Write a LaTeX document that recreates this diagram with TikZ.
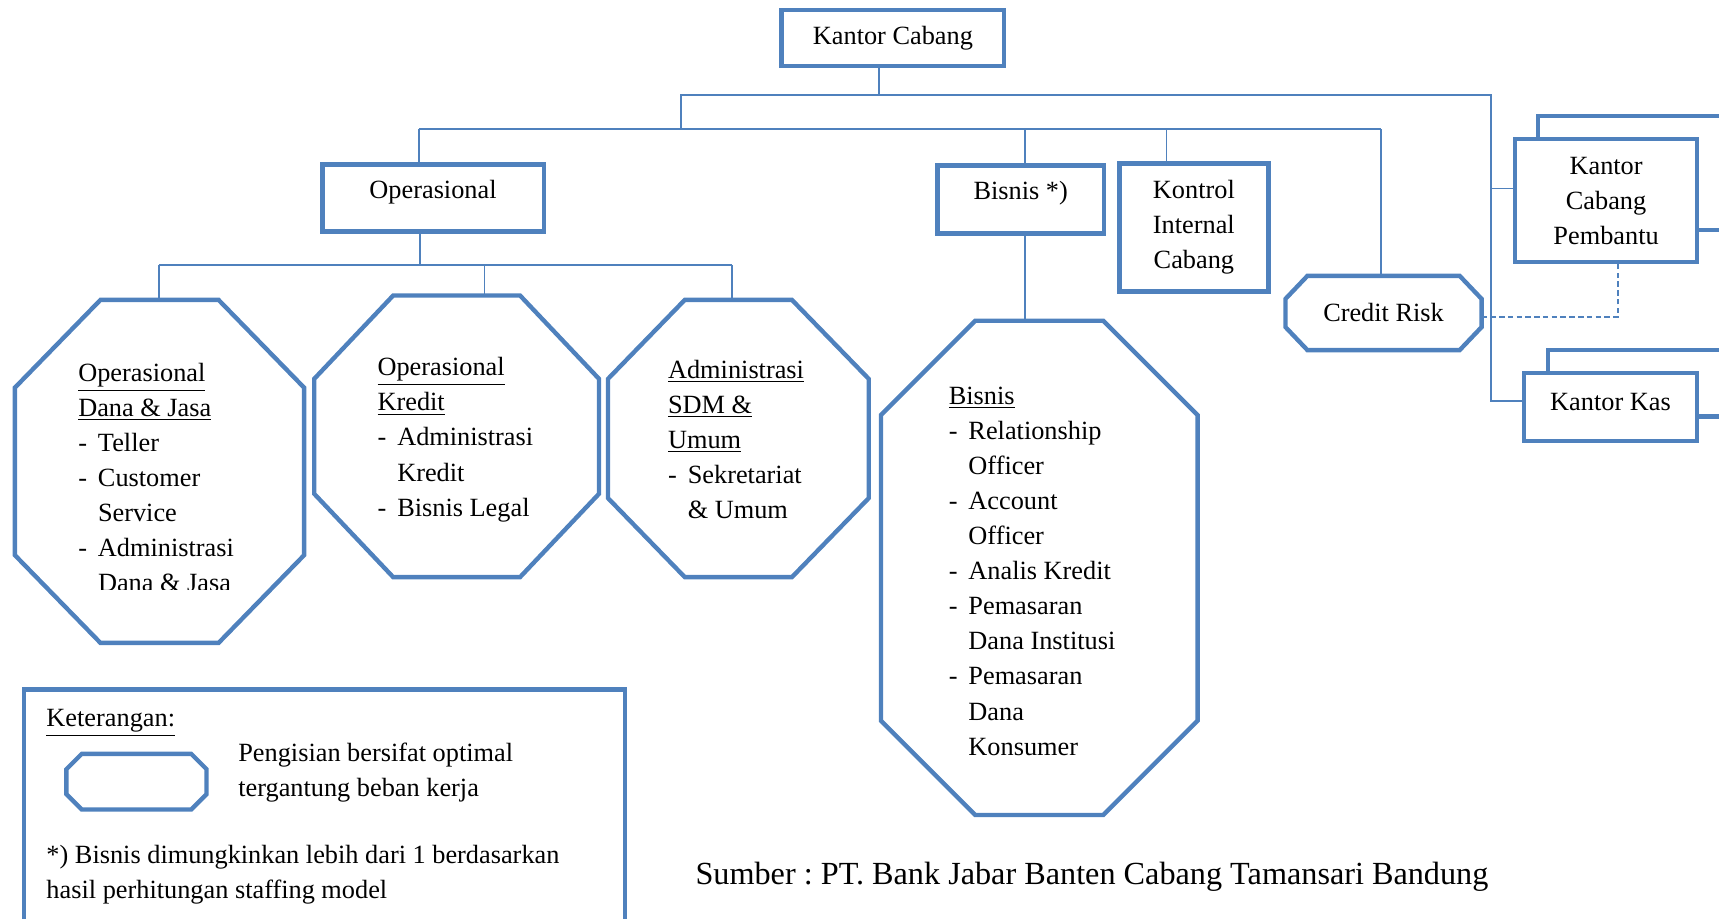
\documentclass[tikz,border=0pt]{standalone}
\usepackage{fontspec}
\setmainfont{Liberation Serif}
\frenchspacing
\definecolor{orgblue}{RGB}{79,129,189}
\tikzset{
  unitbox/.style={draw=orgblue, line width=2pt, fill=white, inner sep=0pt, align=center, font=\fontsize{12}{16}\selectfont},
  octarea/.style={inner sep=0pt, align=center, font=\fontsize{12}{16}\selectfont},
  octline/.style={draw=orgblue, line width=2pt},
  conn/.style={draw=orgblue, line width=0.8pt},
  desc/.style={anchor=north west, inner sep=0pt, align=left, font=\fontsize{12}{16}\selectfont},
}
% octagon round a named node: node, x cut, y cut
\newcommand{\octa}[3]{%
  \draw[octline] ([xshift=#2]#1.north west) -- ([xshift=-#2]#1.north east)
    -- ([yshift=-#3]#1.north east) -- ([yshift=#3]#1.south east)
    -- ([xshift=-#2]#1.south east) -- ([xshift=#2]#1.south west)
    -- ([yshift=#3]#1.south west) -- ([yshift=-#3]#1.north west) -- cycle;}
\newcommand{\itm}[1]{\makebox[9pt][l]{-}#1}
\newcommand{\cnt}[1]{\hspace*{9pt}#1}
\begin{document}
\begin{tikzpicture}[x=0.5pt,y=-0.5pt]
    \useasboundingbox (0,0) rectangle (1568,838);

    % Junction points of the connectors
    \coordinate (j1) at (802,87);
    \coordinate (b1l) at (621,87);
    \coordinate (b1r) at (1360,87);
    \coordinate (b2l) at (382,118);
    \coordinate (b2m) at (935,118);
    \coordinate (b2k) at (1064,118);
    \coordinate (b2r) at (1260,118);
    \coordinate (r1) at (1360,172);
    \coordinate (r2) at (1360,366);
    \coordinate (c0) at (383,242);
    \coordinate (c1) at (145,242);
    \coordinate (c2) at (442,242);
    \coordinate (c3) at (668,242);
    \coordinate (dq) at (1476,289);

    % Top office
    \node[unitbox, minimum width=101.5pt, minimum height=25.5pt] (kc) at (814.5,34.5) {Kantor Cabang};

    % Units below the branch office
    \node[unitbox, minimum width=101pt, minimum height=30.5pt, text depth=8pt] (ops) at (395,180.5) {Operasional};
    \node[unitbox, minimum width=76pt, minimum height=31pt, text depth=8pt] (bis) at (931,182) {Bisnis *)};
    \node[unitbox, minimum width=68pt, minimum height=58.5pt] (kic) at (1089,207.5) {Kontrol\\Internal\\Cabang};

    % Stacked offices on the right
    \node[unitbox, minimum width=93.5pt, minimum height=52pt] (kcpb) at (1496.5,158) {};
    \node[unitbox, minimum width=83pt, minimum height=56pt] (kcp) at (1465,183) {Kantor\\Cabang\\Pembantu};
    \node[unitbox, minimum width=89pt, minimum height=30.5pt] (kkb) at (1501,349.5) {};
    \node[unitbox, minimum width=79pt, minimum height=31pt, text depth=4pt] (kk) at (1469,371) {Kantor Kas};

    % Octagon units
    \node[octarea, minimum width=89pt, minimum height=33.5pt] (crd) at (1262,285.5) {Credit Risk};
    \octa{crd}{10pt}{10.5pt}
    \node[octarea, minimum width=131.5pt, minimum height=156pt] (odj) at (145.5,430) {};
    \octa{odj}{39pt}{40pt}
    \node[octarea, minimum width=129.5pt, minimum height=128pt] (okr) at (416.5,398) {};
    \octa{okr}{36pt}{38pt}
    \node[octarea, minimum width=118.5pt, minimum height=126pt] (asu) at (673.5,400) {};
    \octa{asu}{35pt}{36pt}
    \node[octarea, minimum width=144pt, minimum height=225pt] (bso) at (948,518) {};
    \octa{bso}{43pt}{43pt}

    % Connectors
    \draw[conn] (kc.south -| j1) -- (j1);
    \draw[conn] (b1l |- b2l) -- (b1l) -- (b1r) -- (r2) -- (r2 -| kk.west);
    \draw[conn] (r1) -- (r1 -| kcp.west);
    \draw[conn] (b2l) -- (b2r);
    \draw[conn] (b2l) -- (b2l |- ops.north);
    \draw[conn] (b2m) -- (b2m |- bis.north);
    \draw[conn] (b2k) -- (b2k |- kic.north);
    \draw[conn] (b2r) -- (b2r |- crd.north);
    \draw[conn] (b2m |- bis.south) -- (b2m |- bso.north);
    \draw[conn] (c0 |- ops.south) -- (c0);
    \draw[conn] (c1) -- (c3);
    \draw[conn] (c1) -- (c1 |- odj.north);
    \draw[conn] (c2) -- (c2 |- okr.north);
    \draw[conn] (c3) -- (c3 |- asu.north);
    \draw[conn, dash pattern=on 2.5pt off 1.5pt] (crd.east |- dq) -- (dq) -- (dq |- kcp.south);

    % Texts in the octagons
    \begin{scope}
      \clip (0,274) rectangle (300,538);
      \node[desc] (odjt) at (71,325) {\strut\underline{Operasional}\\\underline{Dana \& Jasa}\\\itm{Teller}\\\itm{Customer}\\\cnt{Service}\\\itm{Administrasi}\\\cnt{Dana \& Jasa}};
    \end{scope}
    \node[desc] (okrt) at (344,320) {\strut\underline{Operasional}\\\underline{Kredit}\\\itm{Administrasi}\\\cnt{Kredit}\\\itm{Bisnis Legal}};
    \node[desc] (asut) at (609,322) {\strut\underline{Administrasi}\\\underline{SDM \&}\\\underline{Umum}\\\itm{Sekretariat}\\\cnt{\& Umum}};
    \node[desc] (bsot) at (865,346) {\strut\underline{Bisnis}\\\itm{Relationship}\\\cnt{Officer}\\\itm{Account}\\\cnt{Officer}\\\itm{Analis Kredit}\\\itm{Pemasaran}\\\cnt{Dana Institusi}\\\itm{Pemasaran}\\\cnt{Dana}\\\cnt{Konsumer}};

    % Legend
    \node[unitbox, fill=none, minimum width=274pt, minimum height=115.5pt] (leg) at (296,744.5) {};
    \node[desc] (ket) at (42,640) {\strut\underline{Keterangan:}};
    \node[octarea, minimum width=63.5pt, minimum height=25pt] (lgo) at (124.5,713) {};
    \octa{lgo}{7pt}{7pt}
    \node[desc] (lgt1) at (217,672) {\strut Pengisian bersifat optimal\\tergantung beban kerja};
    \node[desc] (lgt2) at (42,765) {\strut*) Bisnis dimungkinkan lebih dari 1 berdasarkan\\hasil perhitungan staffing model};

    % Source
    \node[anchor=west, inner sep=0pt, font=\fontsize{14.7}{18}\selectfont] (src) at (634,800) {Sumber : PT. Bank Jabar Banten Cabang Tamansari Bandung};
\end{tikzpicture}
\end{document}
